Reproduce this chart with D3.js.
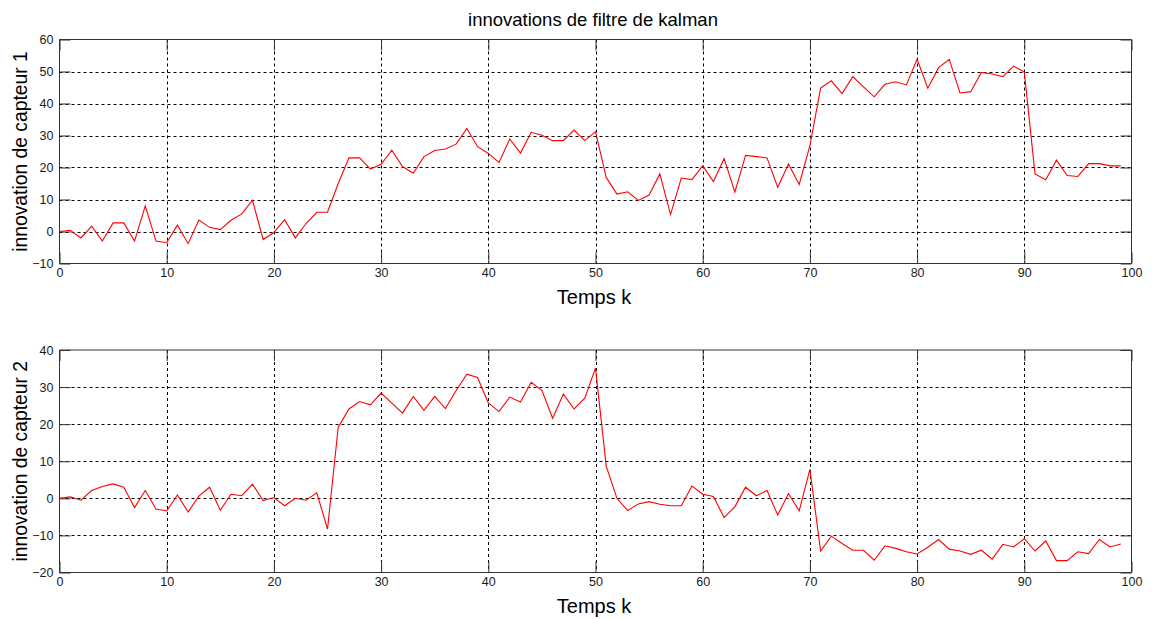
<!DOCTYPE html>
<html><head><meta charset="utf-8">
<script src="https://cdn.jsdelivr.net/npm/d3@7/dist/d3.min.js"></script>
<style>body{margin:0;background:#fff;}svg{display:block;font-family:"Liberation Sans",Arial,sans-serif;}</style>
</head><body>
<script>
const steps = d3.range(0, 100);
const capteur1 = [0,0.4,-2,1.7,-3,2.7,2.7,-3,8,-3,-3.5,2,-3.8,3.6,1.3,0.6,3.5,5.5,9.8,-2.5,
-0.3,3.7,-2,2.5,6,6,15,23,23,19.5,21,25.4,20.3,18.2,23.4,25.3,25.8,27.3,32.2,26.5,
24.4,21.6,28.9,24.5,31,30.1,28.4,28.4,31.7,28.4,31.2,16.9,11.7,12.4,9.7,11.4,18,5.3,16.7,16.2,
20.6,15.6,22.8,12.3,23.8,23.4,23,13.8,21.1,14.7,26.8,44.8,47.1,43.1,48.4,45.2,42.1,46,46.8,45.8,
53.8,44.8,51.2,53.8,43.3,43.7,49.7,49.2,48.4,51.7,49.8,18,16.2,22.3,17.5,17.2,21.2,21.2,20.5,20.5];
const capteur2 = [0,0.4,-0.5,2.1,3.2,3.9,3,-2.5,2.1,-2.9,-3.4,0.9,-3.7,0.6,3,-3.2,1.1,0.7,3.8,-0.6,
0.2,-2,0,-0.5,1.5,-8.3,19.2,24.1,26.1,25.2,28.4,25.7,23,27.5,23.7,27.5,24.2,29.1,33.5,32.6,
25.7,23.4,27.3,26,31.3,29.1,21.6,28.1,24.1,27,35.1,8.7,0,-3.3,-1.5,-0.9,-1.6,-2,-2,3.3,
1.1,0.5,-5.2,-2.3,3,0.7,2.1,-4.5,1.3,-3.4,7.8,-14.2,-10.2,-12.2,-14,-14,-16.7,-12.8,-13.5,-14.4,
-15,-13.2,-11.1,-13.7,-14.2,-15.1,-14,-16.4,-12.4,-13.1,-10.9,-14.2,-11.5,-16.8,-16.8,-14.4,-14.9,-11.1,-13.1,-12.3];
const xTicks = [0,10,20,30,40,50,60,70,80,90,100];
const yTicks1 = [-10,0,10,20,30,40,50,60];
const yTicks2 = [-20,-10,0,10,20,30,40];
const title = "innovations de filtre de kalman";
const xLabel = "Temps k";
const yLabels = ["innovation de capteur 1","innovation de capteur 2"];

const W = 1152, H = 619;
const svg = d3.select("body").append("svg").attr("width", W).attr("height", H);

svg.append("text").attr("x", 593).attr("y", 26).attr("text-anchor","middle")
  .attr("font-size", 18.5).attr("fill","#000").text(title);

const panels = [
  {data: capteur1, yt: yTicks1, dom: [-10,60], top: 39.5, bot: 263.5, label: yLabels[0]},
  {data: capteur2, yt: yTicks2, dom: [-20,40], top: 350, bot: 572.5, label: yLabels[1]}
];
const L = 59.5, R = 1131.5;
const tickLen = 11;

panels.forEach(p => {
  const x = d3.scaleLinear().domain([0,100]).range([L, R]);
  const y = d3.scaleLinear().domain(p.dom).range([p.bot, p.top]);
  const g = svg.append("g");
  // grid
  g.append("g").selectAll("line").data(xTicks.slice(1,-1)).join("line")
    .attr("x1", d=>Math.round(x(d))+0.5).attr("x2", d=>Math.round(x(d))+0.5)
    .attr("y1", p.top).attr("y2", p.bot)
    .attr("stroke","#000").attr("stroke-width",1).attr("stroke-dasharray","3,3");
  g.append("g").selectAll("line").data(p.yt.slice(1,-1)).join("line")
    .attr("y1", d=>Math.round(y(d))+0.5).attr("y2", d=>Math.round(y(d))+0.5)
    .attr("x1", L).attr("x2", R)
    .attr("stroke","#000").attr("stroke-width",1).attr("stroke-dasharray","3,3");
  // axes with inward ticks
  const axB = d3.axisBottom(x).tickValues(xTicks).tickSize(-tickLen).tickPadding(5).tickFormat(d3.format("d"));
  const axT = d3.axisTop(x).tickValues(xTicks).tickSize(-tickLen).tickFormat("");
  const axL = d3.axisLeft(y).tickValues(p.yt).tickSize(-tickLen).tickPadding(6).tickFormat(d3.format("d"));
  const axR = d3.axisRight(y).tickValues(p.yt).tickSize(-tickLen).tickFormat("");
  const style = sel => {
    sel.selectAll("path.domain").attr("stroke","#333");
    sel.selectAll(".tick line").attr("stroke","#333");
    sel.selectAll("text").attr("font-size",12.5).attr("fill","#1a1a1a")
      .attr("font-family",'"Liberation Sans",Arial,sans-serif');
  };
  g.append("g").attr("transform",`translate(0,${p.bot})`).call(axB).call(style)
    .call(s=>s.select("path.domain").attr("d",`M${L},0H${R}`));
  g.append("g").attr("transform",`translate(0,${p.top})`).call(axT).call(style)
    .call(s=>s.select("path.domain").attr("d",`M${L},0H${R}`));
  g.append("g").attr("transform",`translate(${L},0)`).call(axL).call(style)
    .call(s=>s.select("path.domain").attr("d",`M0,${p.top}V${p.bot}`));
  g.append("g").attr("transform",`translate(${R},0)`).call(axR).call(style)
    .call(s=>s.select("path.domain").attr("d",`M0,${p.top}V${p.bot}`));
  // line
  const line = d3.line().x((d,i)=>x(steps[i])).y(d=>y(d));
  g.append("path").datum(p.data).attr("d", line).attr("fill","none")
    .attr("stroke","#ff0000").attr("stroke-width",1.1);
  // labels
  g.append("text").attr("x", 594).attr("y", p.bot + 40).attr("text-anchor","middle")
    .attr("font-size", 20).attr("fill","#000").text(xLabel);
  g.append("text").attr("transform",`translate(27,${(p.top+p.bot)/2}) rotate(-90)`)
    .attr("text-anchor","middle").attr("font-size", 19.3).attr("fill","#000").text(p.label);
});
</script>
</body></html>
